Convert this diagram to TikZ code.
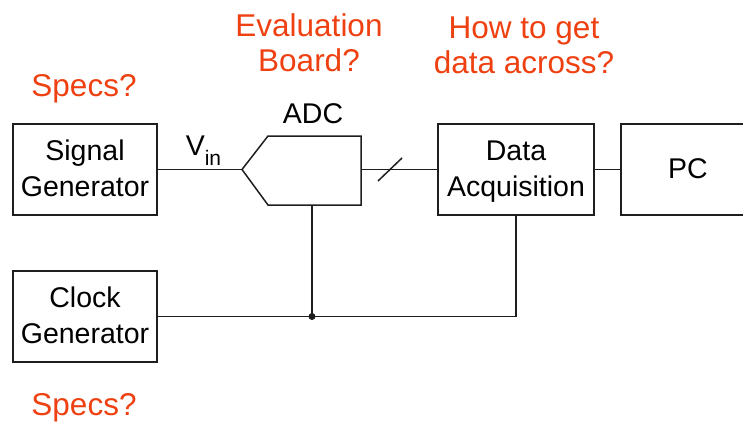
\documentclass[tikz,border=0pt]{standalone}
\usepackage{fontspec}
\setmainfont{Liberation Sans}
\definecolor{qorange}{RGB}{238,64,16}
\definecolor{qline}{RGB}{30,30,30}
\newcommand\bstrut{\rule[-9pt]{0pt}{36pt}}
\newcommand\ostrut{\rule[-9pt]{0pt}{35pt}}
\begin{document}
\begin{tikzpicture}[x=1pt,y=-1pt,line width=1.5pt,draw=qline,
  box/.style={draw=qline,rectangle,inner sep=0pt,minimum height=91pt,align=center,
    font={\fontsize{28.5}{36}\selectfont}},
  blacktext/.style={inner sep=0pt,font={\fontsize{28.5}{36}\selectfont}},
  question/.style={inner sep=0pt,align=center,text=qorange,font={\fontsize{31.5}{35}\selectfont}}]
\useasboundingbox (0,0) rectangle (743,425);
% boxes
\node[box,minimum width=144pt] (sig) at (85,169.5) {\bstrut Signal\\\bstrut Generator};
\node[box,minimum width=144pt] (clk) at (85,316.5) {\bstrut Clock\\\bstrut Generator};
\node[box,minimum width=156pt] (daq) at (516,169.5) {\bstrut Data\\\bstrut Acquisition};
\node[box,minimum width=134pt] (pc) at (688,169.5) {\bstrut PC};
% ADC shape
\coordinate (adcin) at (242,169.5);
\coordinate (adcout) at (361,169.5);
\coordinate (adcbot) at (312,205);
\draw (adcin) -- (268,136) -- (361,136) -- (361,205) -- (268,205) -- cycle;
% connectors
\draw (sig.east) -- (adcin);
\draw (adcout) -- (daq.west);
\coordinate (sl) at (390,169.5);
\draw ([shift={(-12,11.5)}]sl) -- ([shift={(12,-11.5)}]sl);
\draw (daq.east) -- (pc.west);
\coordinate (j) at (312,316.5);
\draw (adcbot) -- (j);
\draw (clk.east) -- (j) -- (j -| daq.south) -- (daq.south);
\fill[qline] (j) circle (3.5pt);
% labels
\node[blacktext,anchor=base] (adc) at (313,124) {ADC};
\node[blacktext,anchor=base west] (vin) at (185,155) {V\raisebox{-10pt}{\fontsize{21}{21}\selectfont in}};
\node[question,anchor=base] (spec1) at (84,97) {Specs?};
\node[question] (evb) at (309,46) {\ostrut Evaluation\\\ostrut Board?};
\node[question] (how) at (524,47.5) {\ostrut How to get\\\ostrut data across?};
\node[question,anchor=base] (spec2) at (84,415) {Specs?};
\end{tikzpicture}
\end{document}
